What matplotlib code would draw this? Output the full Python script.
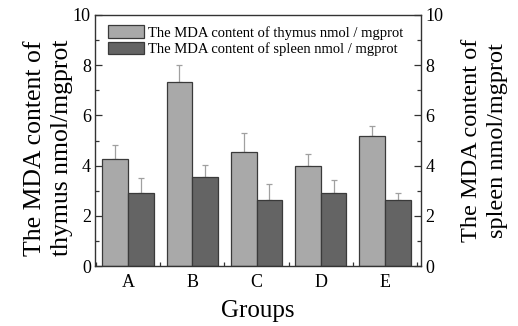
import numpy as np
import matplotlib.pyplot as plt
from matplotlib.ticker import MultipleLocator

plt.rcParams['font.family'] = ['Liberation Serif', 'DejaVu Serif']

groups = ['A', 'B', 'C', 'D', 'E']
thymus = [4.26, 7.34, 4.55, 4.00, 5.19]
thymus_err = [0.58, 0.66, 0.75, 0.46, 0.39]
spleen = [2.90, 3.55, 2.63, 2.90, 2.63]
spleen_err = [0.60, 0.47, 0.64, 0.53, 0.29]

LIGHT = '#a9a9a9'
DARK = '#646464'
EDGE = '#3a3a3a'
ERR = '#a0a0a0'

fig = plt.figure(figsize=(5.18, 3.26), dpi=100)
ax = fig.add_axes([0.1834, 0.184, 0.6293, 0.770])

x = np.arange(len(groups))
w = 0.4
ax.bar(x - w / 2, thymus, w, color=LIGHT, edgecolor=EDGE, linewidth=0.9,
       label='The MDA content of thymus nmol / mgprot', zorder=2)
ax.bar(x + w / 2, spleen, w, color=DARK, edgecolor=EDGE, linewidth=0.9,
       label='The MDA content of spleen nmol / mgprot', zorder=2)
ax.errorbar(x - w / 2, thymus, yerr=[np.zeros(5), thymus_err], fmt='none',
            ecolor=ERR, elinewidth=0.9, capsize=2.5, capthick=0.9, zorder=1)
ax.errorbar(x + w / 2, spleen, yerr=[np.zeros(5), spleen_err], fmt='none',
            ecolor=ERR, elinewidth=0.9, capsize=2.5, capthick=0.9, zorder=1)

ax.set_xlim(-0.514, 4.56)
ax.set_ylim(0, 10)
ax.set_xticks(x)
ax.set_xticklabels(groups)
ax.xaxis.set_minor_locator(MultipleLocator(1, offset=0.5))
ax.yaxis.set_major_locator(MultipleLocator(2))
ax.yaxis.set_minor_locator(MultipleLocator(1))
ax.tick_params(axis='both', which='both', direction='in', labelsize=13,
               color='#333333')
ax.tick_params(axis='y', which='major', length=5, width=0.9, pad=3)
ax.tick_params(axis='y', which='minor', length=3, width=0.9)
ax.tick_params(axis='x', which='major', length=3, width=0.9, pad=6)
ax.tick_params(axis='x', which='minor', length=3, width=0.9)
for s in ax.spines.values():
    s.set_linewidth(1.0)
    s.set_color('#333333')

ax.set_xlabel('Groups', fontsize=18, labelpad=6)
ax.set_ylabel('The MDA content of\nthymus nmol/mgprot', fontsize=18.5,
              linespacing=1.3, labelpad=0)
ax.yaxis.label.set_y(0.47)

ax2 = ax.twinx()
ax2.set_ylim(0, 10)
ax2.yaxis.set_major_locator(MultipleLocator(2))
ax2.yaxis.set_minor_locator(MultipleLocator(1))
ax2.tick_params(axis='y', which='both', direction='in', labelsize=13,
                color='#333333')
ax2.tick_params(axis='y', which='major', length=5, width=0.9, pad=3)
ax2.tick_params(axis='y', which='minor', length=3, width=0.9)
ax2.set_ylabel('The MDA content of\nspleen nmol/mgprot', fontsize=17.5,
               linespacing=1.3, labelpad=13)
ax2.yaxis.label.set_y(0.5)
for s in ax2.spines.values():
    s.set_visible(False)

ax.legend(loc='upper left', frameon=False, fontsize=10.5, handlelength=2.5,
          handleheight=0.95, handletextpad=0.25, labelspacing=0.15,
          borderaxespad=0.3, bbox_to_anchor=(0.008, 1.0))

fig.savefig('out.png', dpi=100)
